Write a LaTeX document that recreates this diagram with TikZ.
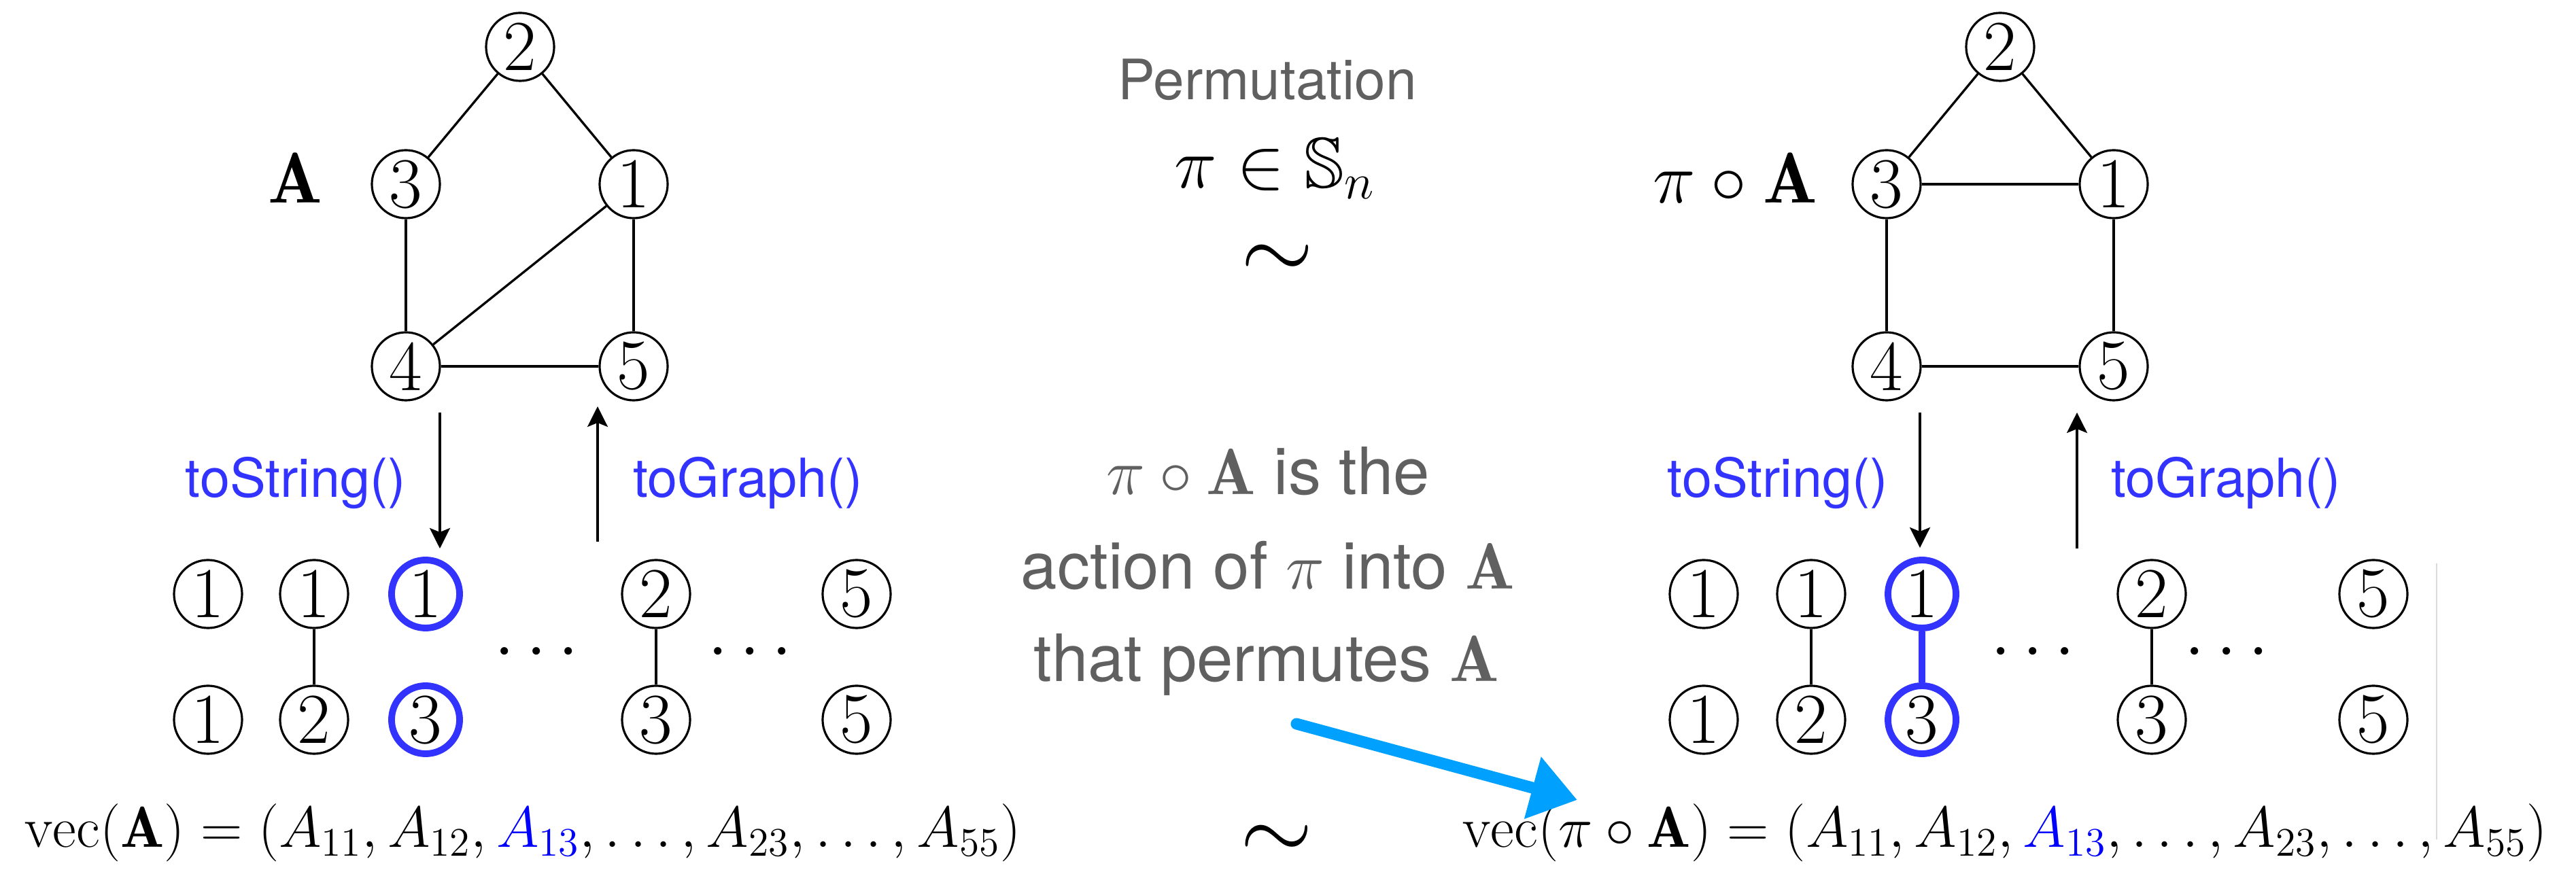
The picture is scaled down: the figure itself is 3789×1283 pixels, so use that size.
\RequirePackage{fix-cm}
\documentclass[tikz,border=0pt]{standalone}
\usepackage{amssymb}
\usepackage{fontspec}
\setsansfont{TeX Gyre Heros}
\usetikzlibrary{arrows.meta}
\definecolor{myblue}{RGB}{51,51,255}
\definecolor{txtgray}{RGB}{96,96,96}
\definecolor{handblue}{RGB}{0,160,255}
\begin{document}
\begin{tikzpicture}[x=0.01cm,y=-0.01cm,
  vtx/.style={circle,draw,line width=0.9pt,minimum size=1cm,inner sep=0pt,font=\fontsize{30}{36}\selectfont},
  hvtx/.style={vtx,draw=myblue,line width=2.8pt},
  edge/.style={line width=0.95pt},
  hedge/.style={draw=myblue,line width=2.8pt},
  conv/.style={line width=0.9pt,-{Stealth[length=0.3cm,width=0.3cm,inset=0.06cm]}},
  fn/.style={font=\sffamily\fontsize{22.5}{27}\selectfont,text=myblue,anchor=base},
  gtxt/.style={font=\sffamily\fontsize{27.3}{32}\selectfont,text=txtgray,anchor=base},
  bigm/.style={font=\fontsize{30}{36}\selectfont,anchor=base},
  tilde/.style={font=\fontsize{39}{44}\selectfont,anchor=base},
  vecf/.style={font=\fontsize{24.2}{29}\selectfont,anchor=base west,inner sep=0pt},
]
\useasboundingbox (0,0) rectangle (3789,1283);

% ---------- left graph A
\node[vtx] (L2) at (765,69) {2};
\node[vtx] (L3) at (597,271) {3};
\node[vtx] (L1) at (932,271) {1};
\node[vtx] (L4) at (597,539) {4};
\node[vtx] (L5) at (932,539) {5};
\draw[edge] (L2) -- (L3);
\draw[edge] (L2) -- (L1);
\draw[edge] (L3) -- (L4);
\draw[edge] (L1) -- (L5);
\draw[edge] (L1) -- (L4);
\draw[edge] (L4) -- (L5);
\node[bigm] (LA) at (434,299) {$\mathbf{A}$};

% ---------- right graph pi o A
\node[vtx] (R2) at (2942,69) {2};
\node[vtx] (R3) at (2775,271) {3};
\node[vtx] (R1) at (3109,271) {1};
\node[vtx] (R4) at (2775,539) {4};
\node[vtx] (R5) at (3109,539) {5};
\draw[edge] (R2) -- (R3);
\draw[edge] (R2) -- (R1);
\draw[edge] (R3) -- (R1);
\draw[edge] (R3) -- (R4);
\draw[edge] (R1) -- (R5);
\draw[edge] (R4) -- (R5);
\node[bigm] (RA) at (2552,299) {$\pi\circ\mathbf{A}$};

% ---------- left conversion arrows
\coordinate (ls1) at (647,607);
\coordinate (ls2) at (647,807);
\coordinate (lg1) at (879,797);
\coordinate (lg2) at (879,598);
\draw[conv] (ls1) -- (ls2);
\draw[conv] (lg1) -- (lg2);
\node[fn] (lts) at (435,732) {toString()};
\node[fn] (ltg) at (1100,732) {toGraph()};

% ---------- right conversion arrows
\coordinate (rs1) at (2824,607);
\coordinate (rs2) at (2824,806);
\coordinate (rg1) at (3055,807);
\coordinate (rg2) at (3055,607);
\draw[conv] (rs1) -- (rs2);
\draw[conv] (rg1) -- (rg2);
\node[fn] (rts) at (2615,732) {toString()};
\node[fn] (rtg) at (3274,732) {toGraph()};

% ---------- left string
\node[vtx]  (a11) at (306,874) {1};
\node[vtx]  (a12) at (462,874) {1};
\node[hvtx] (a13) at (626,874) {1};
\node[vtx]  (a14) at (965,874) {2};
\node[vtx]  (a15) at (1260,874) {5};
\node[vtx]  (a21) at (306,1059) {1};
\node[vtx]  (a22) at (462,1059) {2};
\node[hvtx] (a23) at (626,1059) {3};
\node[vtx]  (a24) at (965,1059) {3};
\node[vtx]  (a25) at (1260,1059) {5};
\draw[edge] (a12) -- (a22);
\draw[edge] (a14) -- (a24);
\node[bigm] (ad1) at (789,985) {$\cdots$};
\node[bigm] (ad2) at (1103,985) {$\cdots$};

% ---------- right string
\node[vtx]  (b11) at (2506,874) {1};
\node[vtx]  (b12) at (2664,874) {1};
\node[hvtx] (b13) at (2827,874) {1};
\node[vtx]  (b14) at (3165,874) {2};
\node[vtx]  (b15) at (3491,874) {5};
\node[vtx]  (b21) at (2506,1059) {1};
\node[vtx]  (b22) at (2664,1059) {2};
\node[hvtx] (b23) at (2827,1059) {3};
\node[vtx]  (b24) at (3165,1059) {3};
\node[vtx]  (b25) at (3491,1059) {5};
\draw[edge] (b12) -- (b22);
\draw[edge] (b14) -- (b24);
\draw[hedge] (b13) -- (b23);
\node[bigm] (bd1) at (2990,985) {$\cdots$};
\node[bigm] (bd2) at (3275,985) {$\cdots$};

\coordinate (gl1) at (3584,829);
\coordinate (gl2) at (3584,1235);
\draw[gray!30,line width=0.4pt] (gl1) -- (gl2);

% ---------- centre texts
\node[gtxt,font=\sffamily\fontsize{23.3}{28}\selectfont] (perm) at (1864,147) {Permutation};
\node[bigm] (pin) at (1875,277) {$\pi\in\mathbb{S}_n$};
\node[tilde] (sim1) at (1879,411) {$\sim$};
\node[gtxt] (t1) at (1865,728) {$\pi\circ\mathbf{A}$ is the};
\node[gtxt] (t2) at (1865,867) {action of $\pi$ into $\mathbf{A}$};
\node[gtxt] (t3) at (1863,1003) {that permutes $\mathbf{A}$};
\node[tilde] (sim2) at (1878,1265) {$\sim$};

% ---------- vec formulas
\node[vecf] (vl) at (36,1247) {$\mathrm{vec}(\mathbf{A}) = (A_{11}, A_{12}, \textcolor{blue}{A_{13}}, \ldots, A_{23}, \ldots, A_{55})$};
\node[vecf] (vr) at (2151,1247) {$\mathrm{vec}(\pi\circ\mathbf{A}) = (A_{11}, A_{12}, \textcolor{blue}{A_{13}}, \ldots, A_{23}, \ldots, A_{55})$};

% ---------- hand-drawn arrow
\coordinate (h1) at (1907,1065);
\coordinate (h2) at (2320,1177);
\draw[handblue,line width=0.17cm,line cap=round,-{Triangle[length=0.68cm,width=0.9cm]}] (h1) -- (h2);
\end{tikzpicture}
\end{document}
